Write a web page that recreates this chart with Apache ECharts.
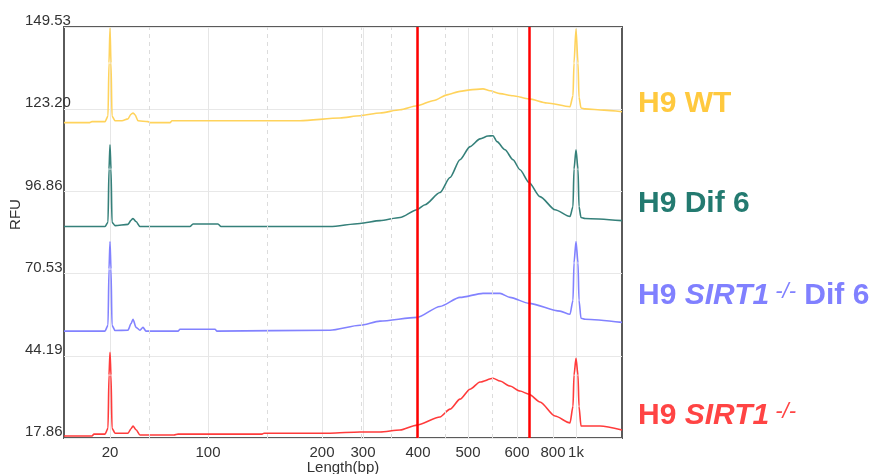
<!DOCTYPE html>
<html>
<head>
<meta charset="utf-8">
<title>RFU traces</title>
<script src="https://cdn.jsdelivr.net/npm/echarts@6/dist/echarts.min.js"></script>
<style>
	html, body { margin: 0; padding: 0; background: #fff; }
	#chart01 { width: 886px; height: 474px; }
</style>
</head>
<body>
<div id="chart01"></div>
<script>
// [position on the sizing axis, RFU]
var wtTrace = [[0,118.9],[25,118.9],[28,119.2],[41,119.2],[44,121],[45,138],[46,149.2],[47,138],[48,121],[51,119.5],[58,119.5],[64,120.1],[67,121.6],[69,122.0],[71,121.4],[74,119.5],[84,119.2],[86,118.9],[106,118.9],[108,119.5],[236,119.5],[276,120.4],[296,121.1],[316,122.0],[336,123.0],[353,124.3],[370,126.0],[383,127.8],[396,128.9],[406,129.4],[419,129.7],[426,129.1],[436,128.2],[449,127.5],[465,126.5],[483,125.2],[506,124.0],[509,127.5],[510,138],[512,148.9],[514,138],[515,127],[517,123.6],[521,123.3],[540,122.9],[558,122.4]];
var dif6Trace = [[0,85.6],[41,85.6],[44,87],[45,104],[46,111.8],[47,104],[48,87],[51,85.9],[64,86.3],[67,87.6],[69,88.2],[72,87.2],[76,85.6],[126,85.6],[129,86.4],[154,86.4],[157,85.6],[266,85.6],[296,86.6],[316,87.5],[336,88.5],[353,91.0],[361,92.6],[376,96.5],[386,101.3],[396,107.0],[406,111.2],[416,113.7],[424,114.6],[429,114.7],[433,112.8],[441,110.2],[449,107.0],[456,103.8],[465,99.7],[476,95.2],[491,91.0],[506,88.8],[509,92],[510,104],[512,110.2],[514,104],[515,92],[517,88.5],[521,88.2],[558,87.5]];
var sirtDif6Trace = [[0,52.1],[41,52.1],[44,54],[45,72],[46,80.8],[47,72],[48,54],[51,52.3],[64,52.4],[67,54.5],[69,55.9],[72,53.3],[76,52.4],[79,53.3],[82,52.1],[114,52.1],[116,52.7],[151,52.7],[153,52.1],[266,52.4],[296,54.0],[316,55.3],[353,56.5],[376,60.0],[396,62.9],[419,64.2],[436,64.2],[446,62.9],[465,61.0],[496,58.5],[506,57.5],[509,62],[510,74],[512,80.8],[514,74],[515,62],[517,56.2],[521,55.9],[558,54.9]];
var sirtTrace = [[0,18.5],[28,18.5],[30,19.1],[41,19.1],[44,21],[45,38],[46,45.3],[47,38],[48,21],[51,19.4],[64,19.4],[67,20.8],[69,21.7],[72,20.5],[76,18.8],[110,18.8],[114,19.1],[198,19.1],[200,19.4],[266,19.4],[296,19.8],[316,19.8],[336,20.4],[353,22.0],[376,24.6],[386,27.1],[396,30.3],[406,33.5],[416,35.8],[429,37.0],[436,36.1],[446,34.5],[456,32.9],[465,31.9],[476,29.4],[491,24.9],[506,22.7],[509,28],[510,38],[512,43.4],[514,38],[515,28],[517,21.7],[536,21.7],[558,20.4]];

// ladder sizes and where they sit on the axis
var ladderPos = [46, 144, 258, 299, 354, 404, 453, 489, 512];
var ladderLabels = ['20', '100', '200', '300', '400', '500', '600', '800', '1k'];
var minorPos = [85, 203, 297, 327, 381, 428];
var cutPos = [353, 465];

// RFU axis
var rfuMin = 17.86;
var rfuStep = 26.334;
var rfuMax = 149.53;

var page1 = {
	"chart01": function () {
		var chart = echarts.init(document.getElementById('chart01'));
		var font = "'Liberation Sans', Arial, sans-serif";

		var shift = function (trace) {
			var out = [];
			for (var i = 0; i < trace.length; i++) {
				out.push([trace[i][0], +(trace[i][1] - rfuMin).toFixed(3)]);
			}
			return out;
		};
		var trace = function (name, color, data) {
			return {
				name: name,
				type: 'line',
				z: 3,
				symbol: 'none',
				silent: true,
				smooth: 0.25,
				smoothMonotone: 'x',
				lineStyle: { color: color, width: 1.6 },
				data: shift(data)
			};
		};
		var vLines = function (list) {
			var out = [];
			for (var i = 0; i < list.length; i++) {
				out.push({ xAxis: list[i] });
			}
			return out;
		};

		var option = {
			animation: false,
			backgroundColor: '#fff',
			grid: {
				left: 64,
				top: 27,
				right: 264,
				bottom: 36,
				outerBoundsMode: 'none',
				show: true,
				borderColor: '#5a5a5a',
				borderWidth: 2
			},
			xAxis: {
				type: 'value',
				min: 0,
				max: 558,
				name: 'Length(bp)',
				nameLocation: 'middle',
				nameMoveOverlap: false,
				nameGap: 22,
				nameTextStyle: { color: '#333', fontSize: 15, fontFamily: font },
				axisLine: { show: false },
				axisTick: { show: false, customValues: ladderPos },
				splitLine: { show: true, lineStyle: { color: '#e6e6e6', width: 1 } },
				axisLabel: {
					customValues: ladderPos,
					margin: 7,
					color: '#333',
					fontSize: 15,
					fontFamily: font,
					formatter: function (v) {
						var i = ladderPos.indexOf(v);
						return i >= 0 ? ladderLabels[i] : '';
					}
				}
			},
			yAxis: {
				type: 'value',
				min: 0,
				max: +(rfuMax - rfuMin).toFixed(2),
				interval: rfuStep,
				name: 'RFU',
				nameLocation: 'middle',
				nameMoveOverlap: false,
				nameGap: 41,
				nameTextStyle: { color: '#333', fontSize: 15, fontFamily: font, padding: [0, 0, 0, 36] },
				axisLine: { show: false },
				axisTick: { show: false },
				splitLine: { show: true, lineStyle: { color: '#e8e8e8', width: 1 } },
				axisLabel: {
					showMinLabel: true,
					showMaxLabel: true,
					align: 'left',
					verticalAlign: 'bottom',
					lineHeight: 12,
					margin: 39,
					color: '#333',
					fontSize: 15,
					fontFamily: font,
					formatter: function (v) {
						return (v + rfuMin).toFixed(2);
					}
				}
			},
			series: [
				{
					name: 'minor',
					type: 'line',
					z: 1,
					silent: true,
					data: [],
					markLine: {
						silent: true,
						symbol: 'none',
						label: { show: false },
						lineStyle: { color: '#dcdcdc', width: 1, type: [4, 4] },
						data: vLines(minorPos)
					}
				},
				trace('H9 WT', '#ffd35c', wtTrace),
				trace('H9 Dif 6', '#35807a', dif6Trace),
				trace('H9 SIRT1-/- Dif 6', '#8282ff', sirtDif6Trace),
				trace('H9 SIRT1-/-', '#ff3b3b', sirtTrace),
				{
					name: 'cut',
					type: 'line',
					z: 5,
					silent: true,
					data: [],
					markLine: {
						silent: true,
						symbol: 'none',
						label: { show: false },
						lineStyle: { color: '#ff0000', width: 2.5, type: 'solid' },
						data: vLines(cutPos)
					}
				}
			],
			graphic: [
				{
					type: 'text', x: 638, y: 104,
					style: {
						text: 'H9 WT', fill: '#ffc93e', verticalAlign: 'middle',
						font: 'bold 30px ' + font
					}
				},
				{
					type: 'text', x: 638, y: 204,
					style: {
						text: 'H9 Dif 6', fill: '#237a70', verticalAlign: 'middle',
						font: 'bold 30px ' + font
					}
				},
				{
					type: 'text', x: 638, y: 296,
					style: {
						text: '{a|H9 }{b|SIRT1}{c| -/-}{a| Dif 6}', verticalAlign: 'middle',
						rich: {
							a: { fill: '#8080ff', fontSize: 30, fontWeight: 'bold', fontFamily: font, lineHeight: 30 },
							b: { fill: '#8080ff', fontSize: 30, fontWeight: 'bold', fontStyle: 'italic', fontFamily: font, lineHeight: 30 },
							c: { fill: '#8080ff', fontSize: 22, fontStyle: 'italic', fontFamily: font, verticalAlign: 'top', lineHeight: 22 }
						}
					}
				},
				{
					type: 'text', x: 638, y: 416,
					style: {
						text: '{a|H9 }{b|SIRT1}{c| -/-}', verticalAlign: 'middle',
						rich: {
							a: { fill: '#ff4444', fontSize: 30, fontWeight: 'bold', fontFamily: font, lineHeight: 30 },
							b: { fill: '#ff4444', fontSize: 30, fontWeight: 'bold', fontStyle: 'italic', fontFamily: font, lineHeight: 30 },
							c: { fill: '#ff4444', fontSize: 22, fontStyle: 'italic', fontFamily: font, verticalAlign: 'top', lineHeight: 22 }
						}
					}
				}
			]
		};
		chart.setOption(option);
	}
};

page1.chart01();
</script>
</body>
</html>
